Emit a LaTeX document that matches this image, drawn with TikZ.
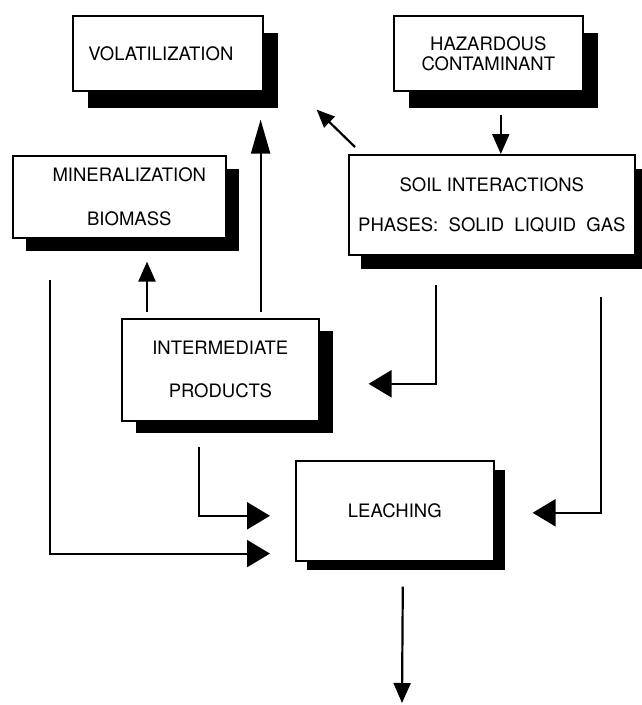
\documentclass[tikz,border=0pt]{standalone}
\usepackage{fontspec}
\setmainfont{TeX Gyre Heros}
\usetikzlibrary{arrows.meta,shadows,calc}
\begin{document}
\begin{tikzpicture}[x=1pt,y=-1pt,
  box/.style={draw, line width=1.6pt, fill=white, anchor=north west, inner sep=0pt,
    align=center, font=\fontsize{18.5}{20}\selectfont},
  sh/.style 2 args={drop shadow={opacity=1, fill=black, shadow xshift=#1pt, shadow yshift=-#2pt}},
  conn/.style={line width=2.2pt},
  bigtip/.style={-{Triangle[length=23pt,width=27pt]}},
  midtip/.style={-{Triangle[length=20pt,width=17pt]}},
  tallTip/.style={-{Triangle[length=34pt,width=19pt]}},
  smalltip/.style={-{Triangle[length=18pt,width=15pt]}}]
\useasboundingbox (0,0) rectangle (642,705);
\fill[white] (0,0) rectangle (642,705);

\node[box, sh={15}{17}, minimum width=190pt, minimum height=75pt] (vol) at (72,15) {\hspace*{-14pt}VOLATILIZATION};
\node[box, sh={15}{17}, minimum width=189pt, minimum height=75pt] (haz) at (393,15) {HAZARDOUS\\CONTAMINANT};
\node[box, sh={12}{14}, minimum width=286pt, minimum height=100pt] (soil) at (348,154) {SOIL INTERACTIONS\\[20pt]PHASES:\ \ SOLID\ \ LIQUID\ \ GAS};
\node[box, sh={13}{13}, minimum width=213pt, minimum height=82pt] (min) at (12,155) {\hspace*{20pt}MINERALIZATION\\[24pt]\hspace*{20pt}BIOMASS};
\node[box, sh={14}{12}, minimum width=197pt, minimum height=102pt] (int) at (121,318) {INTERMEDIATE\\[23pt]PRODUCTS};
\node[box, sh={11}{9}, minimum width=198pt, minimum height=100pt] (leach) at (295,460) {LEACHING};
\coordinate (out) at (402,703);

\draw[conn, midtip] ($(haz.south)+(12.5,23)$) -- ($(haz.south |- soil.north)+(12.5,0)$);
\draw[conn, smalltip] ($(soil.north west)+(7,-7)$) -- ($(vol.south east)+(53,18)$);
\draw[conn, tallTip] ($(int.north east)+(-59,-6)$) -- ($(int.north east |- vol.south)+(-59,28)$);
\draw[conn, midtip] ($(int.north west)+(26,-6)$) -- ($(int.north west |- min.south)+(26,23)$);
\draw[conn, bigtip] ($(soil.south west)+(88,29)$) |- ($(int.east)+(49,14)$);
\draw[conn, bigtip] ($(soil.south east)+(-35,41)$) |- ($(leach.east)+(38,2)$);
\draw[conn, bigtip] ($(int.south west)+(78,25)$) |- ($(leach.west)+(-25,5)$);
\draw[conn, bigtip] ($(min.south west)+(38,41)$) |- ($(leach.south west)+(-25,-8)$);
\draw[conn, midtip] ($(leach.south)+(8,25)$) -- (out);
\end{tikzpicture}
\end{document}
